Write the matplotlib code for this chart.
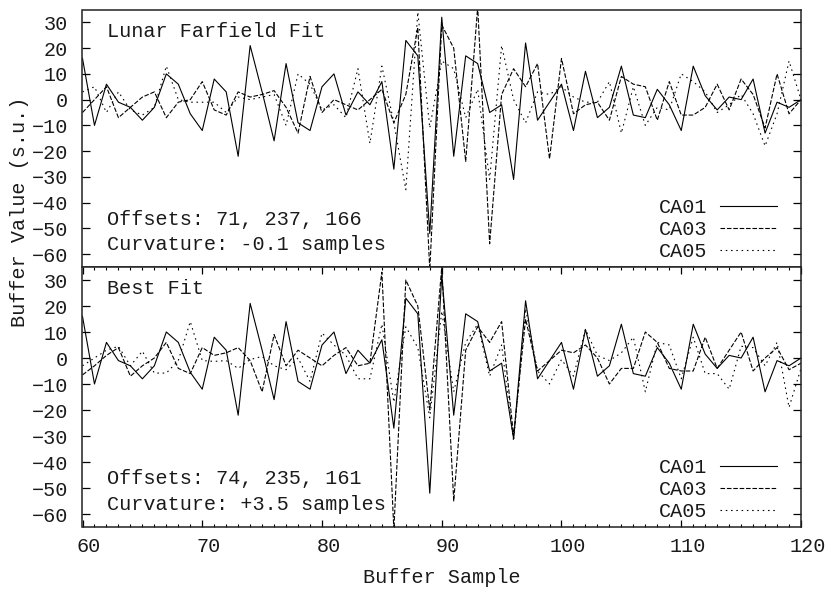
import numpy as np
import matplotlib
matplotlib.use("Agg")
import matplotlib.pyplot as plt
from matplotlib.ticker import MultipleLocator
from matplotlib.transforms import ScaledTranslation

plt.rcParams['font.family'] = ['Liberation Mono', 'DejaVu Sans Mono']
plt.rcParams['lines.scale_dashes'] = False

# buffer sample index
samples = np.arange(60, 121)

# CA01 is the same in both panels
ca01 = [16, -10, 6, -1, -3, -8, -3, 10, 6, -5.5,
        -12, 8, 3, -22, 21, 3, -16, 14, -9, -12,
        5, 10, -6, 3, -2, 7, -27, 23, 17, -52,
        32, -22, 17, 14, -5, -2, -31, 22, -8, -1,
        6, -12, 11, -7, -3, 13, -6, -7, 4, -2,
        -12, 13, 1.5, -4, 1, 0, 8, -13, -1, -3, 0]

# lunar farfield fit
ca03_lunar = [-5, 0, 5, -7, -3, 1, 3, -7, -1, 0,
              7, -4, -6, 3, 1, 2, 3.5, -3, -13, 9,
              -5, 0, -2, -4, 0, 4, -9, 2, 28, -66,
              29, 20, -24, 36, -56, 2, 12, 5, 14, -23,
              16, -5.5, -2, -1, -8, 9, 6, 5, -8, 7,
              -6, -6, -3, 6, -4, 8, 2, -11, 10, -5.5, 0]
ca05_lunar = [3, 5, -5, 3, -4, -6, -3, 13, 0, -1,
              -1, -1, -5, 1, 0, 1, 2, -10, 10, 6,
              -4, -2, -7, 12, -17, 13, -9, -35, 34, -11,
              15, 12, -7, 4, -31, 21, 0, -9, 3, 2,
              5, 1, -1, -1, 7, -13, 5, -10, -3, -4,
              10, 7, 3, -5, -2, 2, -5.5, -18, -5.5, 15, 0]

# best fit
ca03_best = [-6.5, -3, 1, 4, -7, -3, 0, 6, -4, -6,
             4, 1, 2, 4, -1, -13, 9, -3, 3, 0,
             -3, 1, 4, -3, -2, 33, -66, 30, 20, -20,
             35, -55, 3, 12, 6, 14, -30, 15, -5, -1,
             3, 2, 5, 0, -10, -4, -4, 10, 6, -4,
             -5, -5, 8, -4, 3, 10, -5, 0, 4, -4.5, -2]
ca05_best = [-3, 0, 3, 4.5, -3, 2.6, -5.8, -5.8, -1, 14,
             -1, -1.3, -1, -4, -0.6, 0.6, -3, -4.5, 0, -9,
             9.6, 5, 1, -8, -8, 13, -17, 12, 4, -23,
             18, -13, 6, 13, -7, 5, -32, 19, -5, -10,
             -0.6, -7, 11, 1, -1, 2, 8, -13, 6, 5,
             -8, 8, -6, -6, -12, 4.5, 4, -3, 6, -19, -4]

panels = [
    ("Lunar Farfield Fit", "Offsets: 71, 237, 166", "Curvature: -0.1 samples",
     ca03_lunar, ca05_lunar),
    ("Best Fit", "Offsets: 74, 235, 161", "Curvature: +3.5 samples",
     ca03_best, ca05_best),
]

fs = 14.5
txt = '#1a1a1a'
W, H = 828, 590
fig = plt.figure(figsize=(W / 100, H / 100), dpi=100)
left, right = 82.5, 801
boxes = [(9.5, 267), (267, 527)]

axes = []
for i, (title, offs, curv, c3, c5) in enumerate(panels):
    top, bot = boxes[i]
    ax = fig.add_axes([left / W, 1 - bot / H, (right - left) / W, (bot - top) / H])
    ax.plot(samples, ca01, color='black', lw=0.8, ls='-', label='CA01')
    ax.plot(samples, c3, color='black', lw=0.8, ls=(0, (3.3, 1.3)), label='CA03')
    ax.plot(samples, c5, color='black', lw=0.8, ls=(0, (1.1, 2.7)), label='CA05')
    ax.set_xlim(60, 120)
    ax.set_ylim(-65, 35)
    ax.set_yticks(np.arange(-60, 31, 10))
    ax.xaxis.set_major_locator(MultipleLocator(10))
    ax.xaxis.set_minor_locator(MultipleLocator(1))
    ax.tick_params(axis='y', which='major', direction='in', left=True, right=True,
                   length=6, width=0.9, pad=10.4, labelsize=fs, labelcolor=txt)
    if i == 0:
        ax.tick_params(axis='x', which='both', bottom=False, top=False, labelbottom=False)
    else:
        ax.tick_params(axis='x', which='major', direction='in', bottom=True, top=True,
                       length=5, width=0.9, pad=7, labelsize=fs, labelcolor=txt)
        ax.tick_params(axis='x', which='minor', direction='in', bottom=True, top=True,
                       length=2.5, width=0.8)
    for s in ax.spines.values():
        s.set_linewidth(1.1)
        s.set_color('#222222')
    ax.text(0.034, 0.916, title, transform=ax.transAxes, fontsize=fs, color=txt,
            va='center', ha='left')
    ax.text(0.034, 0.185, offs, transform=ax.transAxes, fontsize=fs, color=txt,
            va='center', ha='left')
    ax.text(0.034, 0.088, curv, transform=ax.transAxes, fontsize=fs, color=txt,
            va='center', ha='left')
    ax.legend(loc='center right', bbox_to_anchor=(0.9666, 0.145), frameon=False,
              markerfirst=False, fontsize=fs, handlelength=2.84, handletextpad=0.64,
              labelspacing=0.15, borderpad=0, borderaxespad=0, labelcolor=txt)
    axes.append(ax)

ax2 = axes[1]
shift = ScaledTranslation(6.5 / 100, 0, fig.dpi_scale_trans)
for lab in ax2.get_xticklabels():
    lab.set_transform(lab.get_transform() + shift)

ax2.set_xlabel("Buffer Sample", fontsize=fs, color=txt)
ax2.xaxis.set_label_coords(0.5, -0.196)
ax2.xaxis.label.set_va('center')

axes[0].set_ylabel("Buffer Value (s.u.)", fontsize=fs, color=txt)
axes[0].yaxis.set_label_coords(-0.087, 0.2136)
axes[0].yaxis.label.set_va('center')

fig.savefig("out.png", dpi=100)
